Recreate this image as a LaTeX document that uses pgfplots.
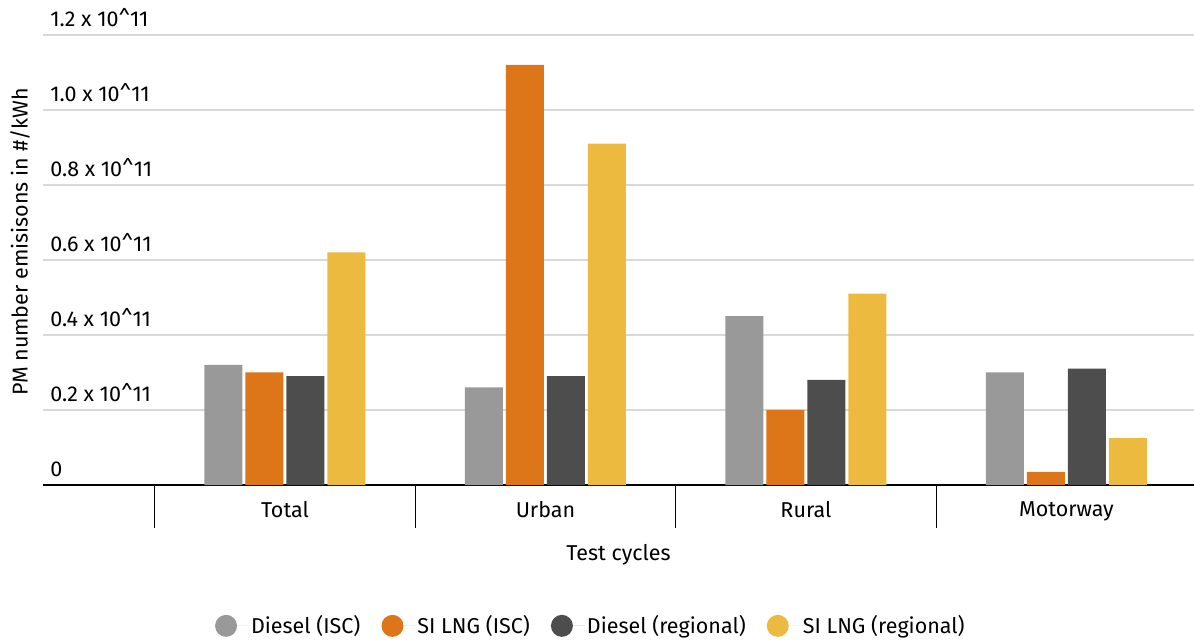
\documentclass[border=0pt]{standalone}
\usepackage{pgfplots}
\pgfplotsset{compat=1.18}
\usepackage{fontspec}
\setmainfont{Fira Sans}
\definecolor{cA}{HTML}{999999}
\definecolor{cB}{HTML}{DD7519}
\definecolor{cC}{HTML}{4D4D4D}
\definecolor{cD}{HTML}{ECBA3F}
\definecolor{gridc}{HTML}{D9D9D9}
\newcommand{\fs}{\fontsize{21.5pt}{25pt}\selectfont}
\begin{document}
\fs
\begin{tikzpicture}
\useasboundingbox (0,0) rectangle (1194pt,640pt);
\begin{axis}[
  at={(43pt,155pt)}, anchor=south west,
  scale only axis, width=1151pt, height=450pt,
  ybar=3pt, bar width=38pt,
  xmin=-0.929, xmax=3.49,
  ymin=0, ymax=1.2,
  axis lines*=left,
  y axis line style={draw=none},
  x axis line style={black, line width=2pt},
  ytick={0,0.2,0.4,0.6,0.8,1.0,1.2},
  yticklabels={0, 0.2 x 10\textasciicircum 11, 0.4 x 10\textasciicircum 11, 0.6 x 10\textasciicircum 11, 0.8 x 10\textasciicircum 11, 1.0 x 10\textasciicircum 11, 1.2 x 10\textasciicircum 11},
  ytick style={draw=none},
  yticklabel style={anchor=south west, xshift=0pt, yshift=1pt, font=\fs},
  yticklabel shift=0pt,
  xmajorgrids=false, ymajorgrids=true,
  grid style={draw=gridc, line width=1.5pt},
  xtick={0,1,2,3},
  xticklabels={Total, Urban, Rural, Motorway},
  x tick style={draw=none},
  major tick length=0pt,
  xticklabel style={yshift=-9pt, font=\fs},
  extra x ticks={-0.5,0.5,1.5,2.5},
  extra x tick labels={},
  extra x tick style={grid=none, major tick length=43pt, tick align=outside, x tick style={draw=black, line width=1pt}},
  xlabel={Test cycles},
  xlabel style={at={(axis description cs:0.5,-0.155)}, anchor=center, font=\fs},
  ylabel={PM number emisisons in \#/kWh},
  ylabel style={at={(axis description cs:-0.02,0.54)}, anchor=center, font=\fs},
  legend columns=4,
  legend style={at={(axis description cs:0.476,-0.313)}, anchor=center, draw=none, font=\fs, /tikz/every even column/.append style={column sep=19pt}},
  legend image code/.code={\fill[#1] (0pt,0pt) circle (11pt); \path (-11pt,0pt) -- (23pt,0pt);},
  every axis plot/.append style={draw=none},
]
\addplot[fill=cA] coordinates {(0,0.32) (1,0.26) (2,0.45) (3,0.30)};
\addplot[fill=cB] coordinates {(0,0.30) (1,1.12) (2,0.20) (3,0.035)};
\addplot[fill=cC] coordinates {(0,0.29) (1,0.29) (2,0.28) (3,0.31)};
\addplot[fill=cD] coordinates {(0,0.62) (1,0.91) (2,0.51) (3,0.125)};
\legend{Diesel (ISC), SI LNG (ISC), Diesel (regional), SI LNG (regional)}
\end{axis}
\end{tikzpicture}
\end{document}
